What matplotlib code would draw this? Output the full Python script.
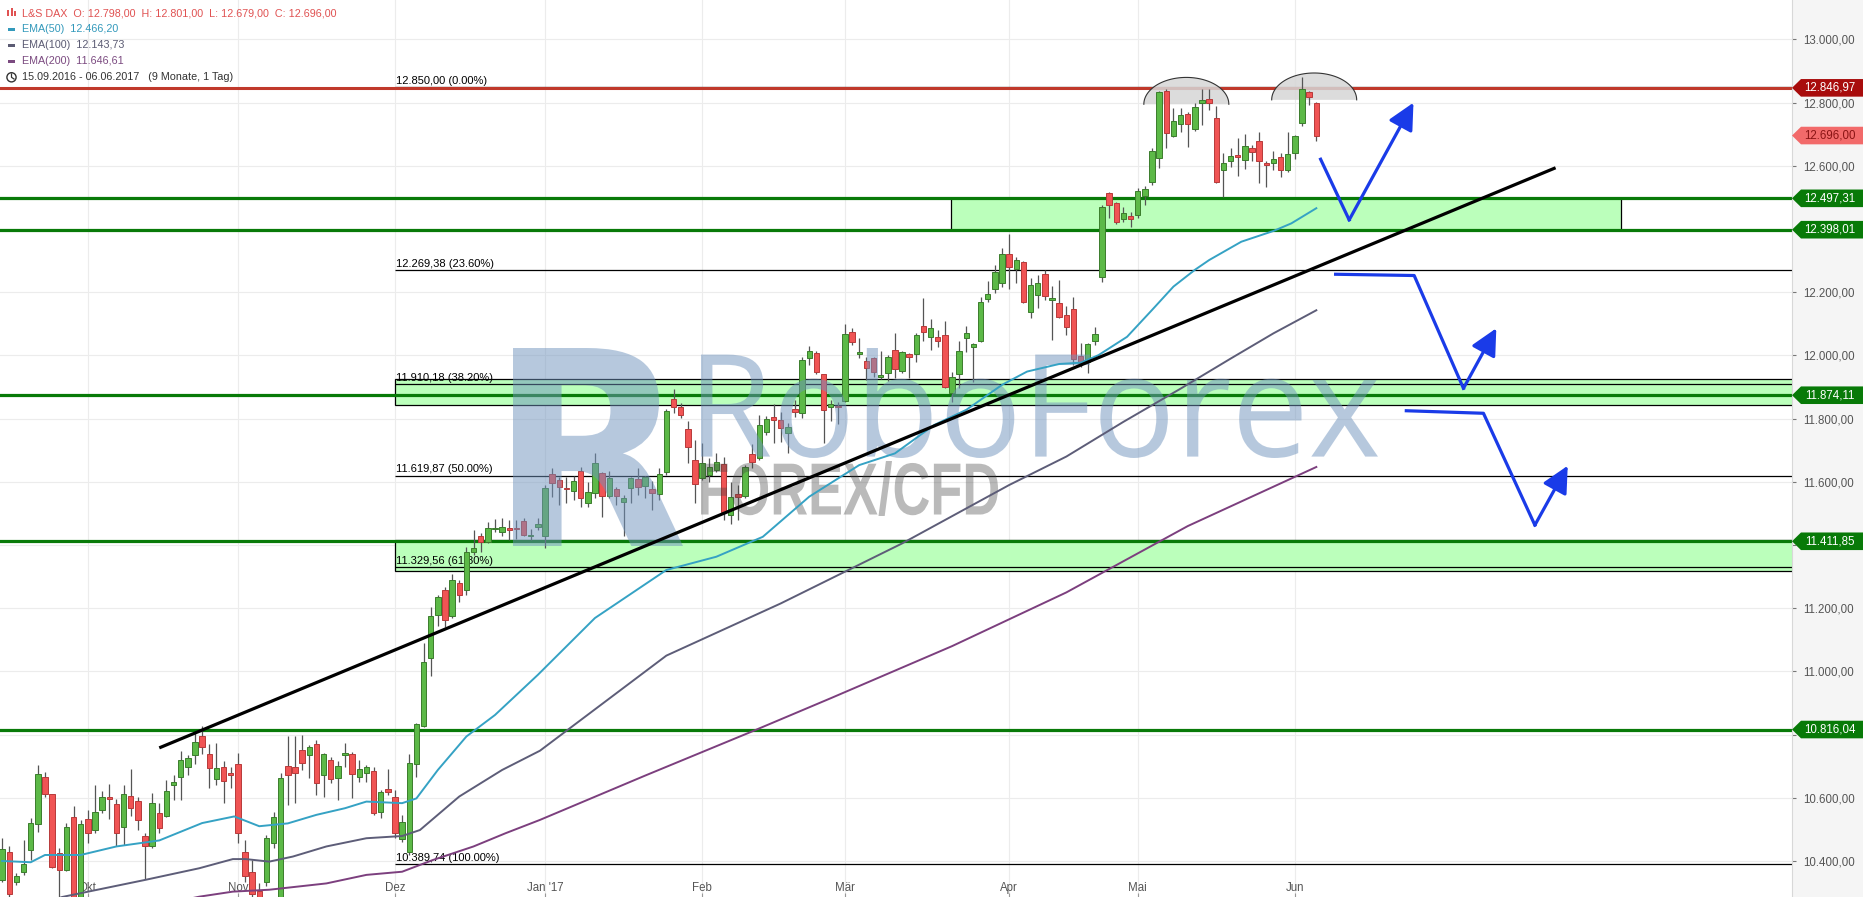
import numpy as np
import pandas as pd
import matplotlib
matplotlib.use("Agg")
import matplotlib.pyplot as plt
from matplotlib.patches import Polygon, Rectangle, Circle, PathPatch
from matplotlib.textpath import TextPath
from matplotlib.font_manager import FontProperties
from matplotlib.transforms import IdentityTransform, Affine2D, blended_transform_factory

W, H = 1863, 897
PLOT_W = 1792
FONT = ["Liberation Sans", "DejaVu Sans"]
plt.rcParams["font.family"] = FONT

# trading days of the L&S DAX chart
holidays = pd.to_datetime(["2016-12-26", "2017-04-14", "2017-04-17", "2017-05-01"])
days = pd.bdate_range("2016-09-15", "2017-06-06")
days = days[~days.isin(holidays)]

opens = [10339, 10428, 10335, 10364, 10435, 10516, 10665, 10611, 10425, 10372,
         10538, 10275, 10532, 10497, 10561, 10604, 10580, 10507, 10607, 10589,
         10478, 10446, 10551, 10542, 10640, 10665, 10698, 10735, 10796, 10739,
         10659, 10697, 10679, 10707, 10428, 10364, 10306, 10335, 10458, 10240,
         10701, 10697, 10750, 10735, 10769, 10673, 10719, 10662, 10734, 10738,
         10665, 10678, 10684, 10554, 10627, 10604, 10470, 10430, 10706, 10828,
         11042, 11179, 11258, 11176, 11280, 11258, 11379, 11430, 11411, 11450,
         11440, 11455, 11453, 11475, 11429, 11458, 11430, 11624, 11606, 11582,
         11572, 11634, 11532, 11564, 11627, 11556, 11576, 11535, 11582, 11608,
         11588, 11576, 11560, 11632, 11861, 11836, 11766, 11669, 11611, 11622,
         11638, 11655, 11495, 11560, 11556, 11687, 11677, 11757, 11804, 11796,
         11754, 11831, 11819, 11991, 12007, 11940, 11836, 11840, 11856, 12073,
         12004, 11983, 11991, 11933, 11944, 12016, 11951, 12004, 12004, 12093,
         12057, 12057, 12065, 11880, 11940, 12054, 12026, 12047, 12178, 12209,
         12228, 12320, 12273, 12295, 12137, 12191, 12257, 12176, 12165, 12128,
         12146, 11998, 11980, 12047, 12247, 12513, 12482, 12433, 12441, 12446,
         12506, 12550, 12626, 12837, 12695, 12732, 12763, 12718, 12798, 12811,
         12751, 12587, 12615, 12636, 12619, 12658, 12680, 12608, 12608, 12627,
         12587, 12640, 12735, 12833, 12798]
highs = [10472, 10446, 10363, 10467, 10535, 10704, 10683, 10611, 10441, 10519,
         10574, 10530, 10562, 10641, 10623, 10644, 10596, 10641, 10691, 10604,
         10488, 10614, 10583, 10657, 10672, 10748, 10736, 10804, 10828, 10770,
         10773, 10717, 10699, 10743, 10467, 10403, 10330, 10482, 10556, 10678,
         10796, 10796, 10799, 10767, 10783, 10741, 10730, 10715, 10773, 10746,
         10720, 10704, 10699, 10625, 10690, 10625, 10546, 10739, 10838, 11089,
         11205, 11242, 11268, 11307, 11290, 11395, 11448, 11437, 11474, 11482,
         11485, 11479, 11478, 11485, 11450, 11485, 11590, 11643, 11614, 11614,
         11619, 11648, 11601, 11692, 11632, 11634, 11585, 11558, 11616, 11643,
         11619, 11603, 11643, 11830, 11893, 11849, 11794, 11732, 11724, 11674,
         11690, 11680, 11601, 11590, 11653, 11720, 11812, 11809, 11845, 11822,
         11785, 11859, 11996, 12030, 12014, 11940, 11859, 11854, 12099, 12086,
         12054, 11996, 11996, 12014, 12002, 12070, 12014, 12007, 12070, 12181,
         12114, 12081, 12109, 11949, 12046, 12093, 12040, 12186, 12236, 12286,
         12341, 12383, 12313, 12299, 12244, 12255, 12271, 12221, 12239, 12155,
         12186, 12038, 12038, 12091, 12476, 12518, 12487, 12471, 12455, 12529,
         12536, 12656, 12838, 12842, 12782, 12782, 12772, 12798, 12842, 12842,
         12790, 12640, 12656, 12687, 12701, 12666, 12708, 12617, 12647, 12640,
         12708, 12698, 12882, 12838, 12801]
lows = [10335, 10287, 10324, 10356, 10403, 10493, 10604, 10377, 10270, 10367,
        10250, 10255, 10458, 10488, 10551, 10532, 10448, 10451, 10543, 10498,
        10344, 10440, 10488, 10538, 10593, 10593, 10672, 10706, 10739, 10630,
        10641, 10583, 10632, 10456, 10335, 10280, 10220, 10320, 10440, 10180,
        10577, 10585, 10688, 10662, 10609, 10604, 10646, 10593, 10699, 10599,
        10651, 10651, 10546, 10535, 10609, 10472, 10461, 10419, 10667, 10825,
        10987, 11144, 11142, 11168, 11221, 11242, 11369, 11379, 11406, 11442,
        11427, 11416, 11418, 11427, 11416, 11446, 11390, 11553, 11527, 11532,
        11543, 11521, 11521, 11548, 11490, 11548, 11527, 11427, 11532, 11558,
        11548, 11511, 11543, 11622, 11819, 11801, 11659, 11534, 11606, 11601,
        11632, 11479, 11466, 11479, 11548, 11643, 11669, 11748, 11722, 11727,
        11692, 11806, 11801, 11970, 11940, 11722, 11791, 11782, 11852, 12033,
        11991, 11922, 11933, 11926, 11920, 11928, 11944, 11928, 11978, 12046,
        12017, 12028, 11896, 11852, 11896, 12010, 11917, 12042, 12170, 12197,
        12218, 12209, 12228, 12165, 12118, 12149, 12176, 12049, 12118, 12065,
        11970, 11965, 11943, 12033, 12234, 12434, 12416, 12423, 12408, 12434,
        12476, 12540, 12594, 12656, 12692, 12708, 12661, 12711, 12729, 12777,
        12545, 12503, 12595, 12568, 12589, 12617, 12545, 12532, 12587, 12566,
        12582, 12621, 12727, 12793, 12679]
closes = [10437, 10295, 10351, 10391, 10519, 10675, 10613, 10382, 10372, 10507,
          10270, 10516, 10488, 10554, 10604, 10596, 10488, 10611, 10567, 10529,
          10446, 10583, 10505, 10621, 10649, 10719, 10725, 10776, 10760, 10694,
          10694, 10653, 10671, 10490, 10354, 10296, 10250, 10474, 10540, 10664,
          10671, 10678, 10709, 10760, 10648, 10738, 10661, 10701, 10741, 10674,
          10690, 10697, 10551, 10618, 10618, 10488, 10523, 10709, 10833, 11029,
          11176, 11237, 11163, 11290, 11242, 11379, 11390, 11411, 11455, 11451,
          11456, 11448, 11451, 11432, 11432, 11466, 11580, 11595, 11583, 11578,
          11603, 11548, 11567, 11659, 11556, 11611, 11556, 11548, 11611, 11583,
          11614, 11564, 11624, 11824, 11836, 11810, 11711, 11592, 11659, 11646,
          11662, 11506, 11551, 11553, 11646, 11662, 11780, 11799, 11797, 11769,
          11775, 11820, 11986, 12014, 11947, 11826, 11845, 11836, 12067, 12042,
          12012, 11959, 11948, 11937, 11994, 11956, 12011, 11994, 12065, 12075,
          12086, 12047, 11901, 11933, 12014, 12070, 12036, 12170, 12194, 12265,
          12320, 12281, 12302, 12170, 12223, 12228, 12188, 12181, 12123, 12091,
          11988, 11975, 12035, 12067, 12469, 12476, 12423, 12452, 12431, 12519,
          12527, 12647, 12833, 12703, 12742, 12760, 12732, 12785, 12807, 12798,
          12548, 12608, 12631, 12627, 12664, 12643, 12615, 12602, 12621, 12587,
          12639, 12694, 12843, 12817, 12696]

# moving averages (candle index, value)
ema50_x = [0, 4, 6, 11, 16, 22, 28, 32.5, 36, 40, 44, 48, 51, 56, 58, 61, 65, 69, 75,
           83, 93, 100, 106.5, 113, 120, 125, 130.5, 135, 140, 143.5, 148, 151,
           153.5, 157.5, 161, 164, 167, 169, 173.5, 178, 180.5, 184]
ema50_y = [10400, 10396, 10419, 10419, 10446, 10465, 10520, 10541, 10510, 10519, 10546,
           10567, 10588, 10583, 10598, 10688, 10794, 10862, 10989, 11169, 11321, 11363,
           11426, 11553, 11653, 11690, 11780, 11828, 11907, 11949, 11973, 11977, 12001,
           12059, 12144, 12218, 12271, 12302, 12360, 12394, 12418, 12466]
ema100_x = [5, 8.4, 20, 27.6, 32.3, 34.1, 37.4, 40.7, 45.4, 51, 56, 58.5, 64, 70, 75.3,
            93, 109, 126, 141, 149, 157, 165, 172, 178, 184]
ema100_y = [10260, 10286, 10340, 10377, 10406, 10406, 10398, 10414, 10446, 10472, 10479,
            10498, 10604, 10688, 10749, 11050, 11215, 11405, 11590, 11680, 11790, 11895,
            11990, 12070, 12143]
ema200_x = [24, 27.6, 32.3, 37.4, 45.4, 51, 56, 60.3, 66, 70.5, 75.3, 90, 105, 116, 133,
            149, 166, 184]
ema200_y = [10270, 10287, 10303, 10309, 10329, 10356, 10366, 10403, 10446, 10488, 10530,
            10670, 10810, 10915, 11080, 11250, 11460, 11647]

fib_levels = [12850.00, 12269.38, 11910.18, 11619.87, 11329.56, 10389.74]
fib_pcts = ["0.00%", "23.60%", "38.20%", "50.00%", "61.80%", "100.00%"]
fib_start = 55
green_levels = [12497.31, 12398.01, 11874.11, 11411.85, 10816.04]
red_level = 12846.97
last_close = 12696.00

# zones: left index, right index, low, high
zones = [(132.9, 226.6, 12398, 12499),
         (55, 300, 11842, 11925),
         (55, 300, 11318, 11415)]

trend_x = [22, 217.5]
trend_y = [10758, 12594]

arrows = [([184.6, 188.6, 197.6], [12621, 12429, 12800]),
          ([186.7, 197.7, 204.6, 209.2], [12257, 12253, 11896, 12086]),
          ([196.6, 207.4, 214.6, 219.2], [11825, 11817, 11463, 11651])]

dome_x = [165.8, 183.7]
dome_base = [12795, 12809]
dome_halfw = 5.95
dome_h = 85

month_labels = {10: "Okt", 11: "Nov", 12: "Dez", 1: "Jan '17", 2: "Feb", 3: "Mär",
                4: "Apr", 5: "Mai", 6: "Jun"}
y_ticks = list(range(10400, 13001, 200))
hidden_ticks = [10800, 11400, 12400]   # covered by the price tags


def de(v):
    s = "{:,.2f}".format(v)
    return s.replace(",", "X").replace(".", ",").replace("X", ".")


fig = plt.figure(figsize=(W / 100, H / 100), dpi=100)
fig.patch.set_facecolor("#f5f5f5")
ax = fig.add_axes([0, 0, PLOT_W / W, 1])
ax.set_facecolor("white")
ax.set_xlim(-0.3, 250.6)
ax.set_ylim(10286, 13125)

for s in ["top", "left", "bottom"]:
    ax.spines[s].set_visible(False)
ax.spines["right"].set_color("#d8d8d8")

# ticks
x = np.arange(len(days))
month_pos = [i for i in range(1, len(days)) if days[i].month != days[i - 1].month]
ax.set_xticks(month_pos)
ax.set_xticklabels([month_labels[days[i].month] for i in month_pos])
ax.tick_params(axis="x", direction="in", length=3, color="#999999", pad=-10.8,
               labelsize=8.3, labelcolor="#555555")
ax.yaxis.tick_right()
ax.set_yticks(y_ticks)
ax.set_yticklabels(["" if v in hidden_ticks else de(v) for v in y_ticks])
ax.tick_params(axis="y", direction="out", length=3, color="#777777", pad=5,
               labelsize=8.3, labelcolor="#555555")
ax.grid(True, color="#ececec", lw=0.8, zorder=0)
ax.set_axisbelow(True)

# zones
for x0, x1, lo, hi in zones:
    ax.add_patch(Rectangle((x0, lo), x1 - x0, hi - lo, facecolor="#bbffbb",
                           edgecolor="black", lw=0.9, zorder=1))

# fibonacci lines
for lev, pct in zip(fib_levels, fib_pcts):
    ax.hlines(lev, fib_start, 300, color="black", lw=0.9, zorder=2)
    ax.annotate("%s (%s)" % (de(lev), pct), (fib_start, lev), xytext=(0.5, 0.8),
                textcoords="offset points", fontsize=8.0, color="black",
                va="bottom", ha="left", zorder=2)

ax.axhline(red_level, color="#c0392b", lw=2.2, zorder=2.2)
for lev in green_levels:
    ax.axhline(lev, color="#087a08", lw=2.3, zorder=2.4)

# domes
th = np.linspace(0, np.pi, 60)
for cx, base in zip(dome_x, dome_base):
    px = cx + dome_halfw * np.cos(th)
    py = base + dome_h * np.sin(th)
    ax.fill(px, py, color="#d6d6d6", alpha=0.85, lw=0, zorder=2.6)
    ax.plot(px, py, color="#333333", lw=0.8, zorder=2.7)

# candles
o = np.array(opens, float)
h = np.array(highs, float)
l = np.array(lows, float)
c = np.array(closes, float)
up = c >= o
ax.vlines(x, l, h, color="#555555", lw=0.9, zorder=3)
lo_b = np.minimum(o, c)
hb = np.maximum(np.abs(c - o), 4)
ax.bar(x[up], hb[up], bottom=lo_b[up], width=0.76, color="#5cb947",
       edgecolor="#3b7d2c", lw=0.7, zorder=3.5)
ax.bar(x[~up], hb[~up], bottom=lo_b[~up], width=0.76, color="#f05454",
       edgecolor="#b83a3a", lw=0.7, zorder=3.5)

# watermark
def stamp(text, family, weight, box, color, alpha):
    left, top, w, hh = box
    tp = TextPath((0, 0), text, size=100, prop=FontProperties(family=family, weight=weight))
    ext = tp.get_extents()
    tr = Affine2D().translate(-ext.x0, -ext.y0).scale(w / ext.width, hh / ext.height)
    tr = tr.translate(left, H - top - hh)
    ax.add_patch(PathPatch(tr.transform_path(tp), facecolor=color, edgecolor="none",
                           alpha=alpha, transform=IdentityTransform(), clip_on=False,
                           zorder=4.5))

stamp("RoboForex", "Open Sans", "normal", (701, 348, 677, 110), "#6f93bd", 0.5)
stamp("FOREX/CFD", "Liberation Sans", "bold", (701, 461, 297, 55), "#404040", 0.36)
stamp("R", "DejaVu Sans", "bold", (513, 348, 170, 198), "#6f93bd", 0.5)

# moving averages
ax.plot(ema50_x, ema50_y, color="#35a2c4", lw=1.4, zorder=5)
ax.plot(ema100_x, ema100_y, color="#5d5d78", lw=1.4, zorder=5)
ax.plot(ema200_x, ema200_y, color="#7c3f7e", lw=1.4, zorder=5)

# trend line and scenario arrows
ax.plot(trend_x, trend_y, color="black", lw=2.3, zorder=6, solid_capstyle="butt")
for ax_x, ax_y in arrows:
    ax.plot(ax_x[:-1], ax_y[:-1], color="#1a3be8", lw=2.3, zorder=6)
    ax.annotate("", xy=(ax_x[-1], ax_y[-1]), xytext=(ax_x[-2], ax_y[-2]),
                arrowprops=dict(arrowstyle="-|>,head_length=0.9,head_width=0.45",
                                color="#1a3be8", lw=2.3, shrinkA=0, shrinkB=0,
                                mutation_scale=18), zorder=6)

# price tags on the right scale
tagT = blended_transform_factory(IdentityTransform(), ax.transData)
half = 8.8 / 0.316
tags = [(red_level, "#a80c0c", "white"), (last_close, "#f26a6a", "#8a1414")]
tags += [(lev, "#087a08", "white") for lev in green_levels]
for lev, bg, fg in tags:
    ax.add_patch(Polygon([(PLOT_W, lev), (PLOT_W + 9, lev + half), (W + 5, lev + half),
                          (W + 5, lev - half), (PLOT_W + 9, lev - half)], closed=True,
                         facecolor=bg, edgecolor="none", transform=tagT, clip_on=False,
                         zorder=8))
    ax.text(1830, lev, de(lev), transform=tagT, color=fg, fontsize=8.3, ha="center",
            va="center", clip_on=False, zorder=9)

# header legend
pxT = IdentityTransform()
rows = [("L&S DAX  O: 12.798,00  H: 12.801,00  L: 12.679,00  C: 12.696,00", "#e05252", 13.3),
        ("EMA(50)  12.466,20", "#3399bb", 29.3),
        ("EMA(100)  12.143,73", "#5b5b73", 45.3),
        ("EMA(200)  11.646,61", "#7b4a80", 61.3),
        ("15.09.2016 - 06.06.2017   (9 Monate, 1 Tag)", "#333333", 77.3)]
for txt, col, yy in rows:
    fig.text(22.5, H - yy, txt, transform=pxT, color=col, fontsize=7.75, va="center")
for col, yy in [("#3399bb", 29.3), ("#5b5b73", 45.3), ("#7b4a80", 61.3)]:
    fig.add_artist(Rectangle((8, H - yy - 1.3), 7, 2.6, facecolor=col, edgecolor="none",
                             transform=pxT))
for bx, by, bh in [(7, 10, 6), (10.5, 8, 8), (14, 11, 5)]:
    fig.add_artist(Rectangle((bx, H - by - bh), 2.2, bh, facecolor="#e05252",
                             edgecolor="none", transform=pxT))
fig.add_artist(Circle((11.5, H - 77.3), 4.6, facecolor="none", edgecolor="#333333",
                      lw=1.0, transform=pxT))
fig.add_artist(plt.Line2D([11.5, 11.5, 14], [H - 74, H - 77.3, H - 79], color="#333333",
                          lw=0.9, transform=pxT))

fig.savefig("out.png", dpi=100, facecolor=fig.get_facecolor())
